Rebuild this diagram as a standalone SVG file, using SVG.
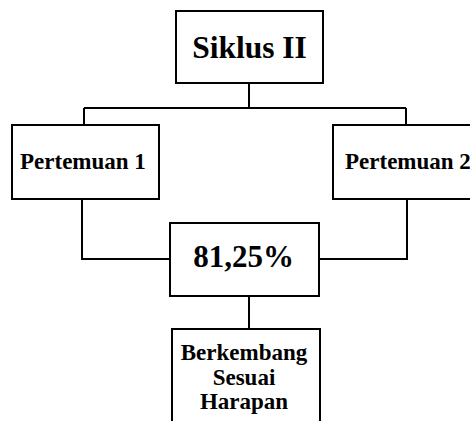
<svg xmlns="http://www.w3.org/2000/svg" width="470" height="421" viewBox="0 0 470 421">
<style>
.box{fill:#fff;stroke:#000;stroke-width:2}
.ln{fill:none;stroke:#000;stroke-width:2}
text{font-family:"Liberation Serif","Times New Roman",serif;font-weight:bold;fill:#000}
</style>
<rect width="470" height="421" fill="#fff"/>
<g id="connectors">
<path class="ln" d="M249,83 V108 M84,108 H406 M84,108 V125 M406,108 V125"/>
<path class="ln" d="M82,199 V259 H170 M407,199 V259 H319"/>
<path class="ln" d="M249,296 V329"/>
</g>
<g id="siklus">
<rect class="box" x="176" y="11" width="147" height="72"/>
<text x="249.5" y="58" font-size="31.5" text-anchor="middle">Siklus II</text>
</g>
<g id="pertemuan1">
<rect class="box" x="12" y="125" width="147" height="74"/>
<text x="20" y="169" font-size="23">Pertemuan 1</text>
</g>
<g id="pertemuan2">
<rect class="box" x="333" y="125" width="150" height="74"/>
<text x="345" y="169" font-size="23">Pertemuan 2</text>
</g>
<g id="hasil">
<rect class="box" x="170" y="223" width="149" height="73"/>
<text x="243.5" y="267" font-size="31" text-anchor="middle">81,25%</text>
</g>
<g id="kategori">
<rect class="box" x="172" y="329" width="148" height="100"/>
<text x="244" y="360" font-size="23" text-anchor="middle">Berkembang</text>
<text x="244" y="384.5" font-size="23" text-anchor="middle">Sesuai</text>
<text x="244" y="409" font-size="23" text-anchor="middle">Harapan</text>
</g>
</svg>
